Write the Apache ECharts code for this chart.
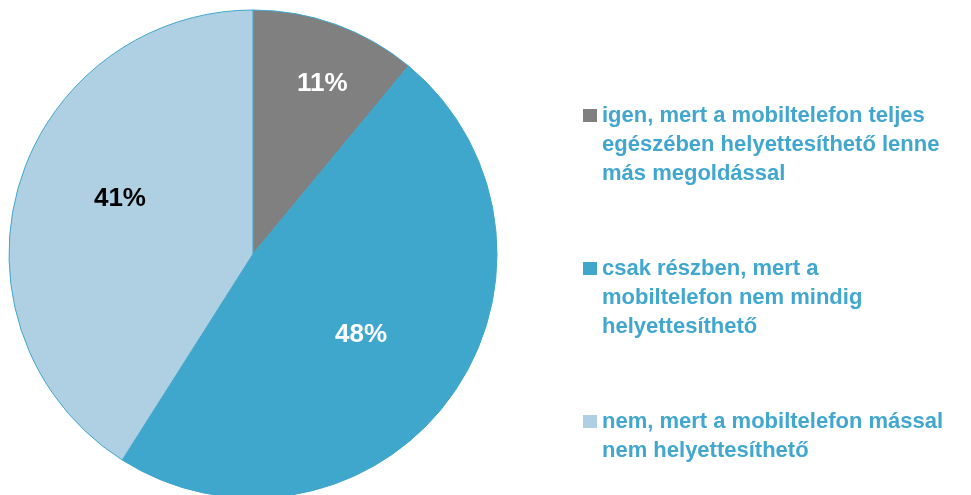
<!DOCTYPE html>
<html><head><meta charset="utf-8">
<script src="https://cdn.jsdelivr.net/npm/echarts@6/dist/echarts.min.js"></script>
<style>html,body{margin:0;padding:0;background:#fff}#c{width:971px;height:495px}</style>
</head><body><div id="c"></div>
<script>
const categories = [
  "igen, mert a mobiltelefon teljes\negészében helyettesíthető lenne\nmás megoldással",
  "csak részben, mert a\nmobiltelefon nem mindig\nhelyettesíthető",
  "nem, mert a mobiltelefon mással\nnem helyettesíthető"
];
const values = [11, 48, 41];
const colors = ["#808080", "#3fa6cc", "#afd0e3"];
const labelColors = ["#ffffff", "#ffffff", "#000000"];
const labelShift = [[27, -53], [7, 7], [-13, -20]];

const chart = echarts.init(document.getElementById('c'), null, {renderer: 'canvas'});
const lineH = 29;
const slots = 5; // lines per legend block, first text line centred on icon
chart.setOption({
  animation: false,
  legend: {
    orient: 'vertical',
    left: 578,
    top: 38,
    height: 800,
    itemWidth: 14,
    itemHeight: 13,
    itemGap: 8,
    icon: 'rect',
    selectedMode: false,
    data: categories,
    formatter: function (name) {
      const lines = name.split('\n');
      const pre = (slots - 1) / 2;
      const out = [];
      for (let i = 0; i < pre; i++) out.push(' ');
      lines.forEach(l => out.push(l));
      while (out.length < slots) out.push(' ');
      return out.join('\n');
    },
    textStyle: {
      color: '#41a7cf',
      fontFamily: 'Liberation Sans, Arial, sans-serif',
      fontWeight: 'bold',
      fontSize: 22,
      lineHeight: lineH
    },
    itemStyle: {borderWidth: 0}
  },
  series: [{
    type: 'pie',
    center: [253, 254],
    radius: [0, 244],
    startAngle: 90,
    clockwise: true,
    avoidLabelOverlap: false,
    data: categories.map((c, i) => ({
      name: c, value: values[i],
      itemStyle: {color: colors[i]},
      label: {color: labelColors[i]}
    })),
    itemStyle: {borderColor: '#3fa6cc', borderWidth: 1},
    label: {
      show: true,
      position: 'inside',
      formatter: '{d}%',
      fontFamily: 'Liberation Sans, Arial, sans-serif',
      fontWeight: 'bold',
      fontSize: 26
    },
    labelLine: {show: false},
    labelLayout: function (p) {
      const s = labelShift[p.dataIndex];
      return {dx: s[0], dy: s[1]};
    },
    emphasis: {disabled: true}
  }]
});
</script></body></html>
